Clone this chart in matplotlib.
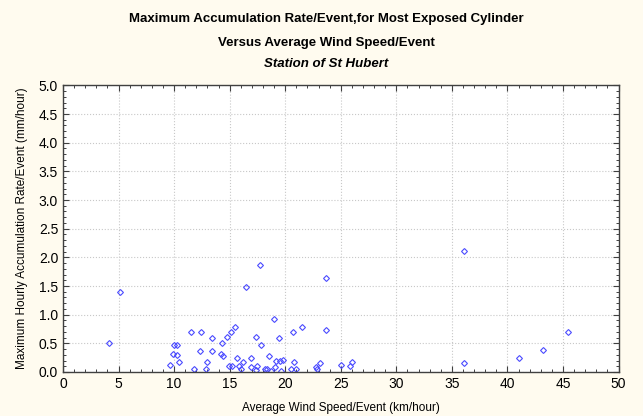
import matplotlib
matplotlib.use("Agg")
import matplotlib.pyplot as plt
from matplotlib.ticker import MultipleLocator

# average wind speed per event (km/hour)
wind_speed = [4.14, 5.1, 9.6, 9.95, 10.3, 9.93, 10.3, 10.4, 11.5, 12.45,
              11.8, 12.3, 12.95, 12.9, 13.4, 13.4, 14.3, 14.2, 14.4, 14.8,
              15.1, 15.5, 14.97, 15.2, 15.8, 16.0, 15.7, 16.2, 16.9, 16.95,
              16.5, 17.7, 17.4, 17.8, 17.5, 17.4, 18.2, 18.4, 18.75, 18.5,
              18.95, 19.4, 19.2, 19.5, 19.8, 19.1, 19.6, 20.7, 21.5, 20.8,
              20.5, 20.95, 22.8, 22.85, 23.1, 23.7, 23.7, 25.05, 25.8, 26.0,
              36.07, 36.07, 41.07, 43.2, 45.45]
# max hourly accumulation rate per event (mm/hour)
accum_rate = [0.51, 1.40, 0.12, 0.47, 0.47, 0.31, 0.30, 0.18, 0.70, 0.70,
              0.05, 0.36, 0.17, 0.05, 0.60, 0.36, 0.51, 0.31, 0.28, 0.61,
              0.70, 0.78, 0.11, 0.11, 0.10, 0.05, 0.24, 0.17, 0.24, 0.08,
              1.48, 1.87, 0.61, 0.47, 0.10, 0.03, 0.06, 0.06, 0.02, 0.28,
              0.93, 0.59, 0.20, 0.20, 0.21, 0.08, 0.02, 0.70, 0.79, 0.17,
              0.05, 0.06, 0.08, 0.06, 0.15, 1.64, 0.73, 0.12, 0.10, 0.17,
              2.11, 0.15, 0.25, 0.39, 0.70]

bg = '#fffbef'
plt.rcParams['font.family'] = ['Liberation Sans', 'DejaVu Sans']

fig = plt.figure(figsize=(6.43, 4.16), dpi=100, facecolor=bg)
ax = fig.add_axes([0.098, 0.1058, 0.864, 0.689])
ax.set_facecolor('white')

ax.plot(wind_speed, accum_rate, linestyle='none', marker='D', markersize=3,
        markerfacecolor='none', markeredgecolor='#4a4aff', markeredgewidth=0.8)

ax.set_xlim(0, 50)
ax.set_ylim(0, 5)
ax.xaxis.set_major_locator(MultipleLocator(5))
ax.xaxis.set_minor_locator(MultipleLocator(1))
ax.yaxis.set_major_locator(MultipleLocator(0.5))
ax.yaxis.set_minor_locator(MultipleLocator(0.1))
ax.yaxis.set_major_formatter(plt.FormatStrFormatter('%.1f'))

ax.grid(True, which='major', linestyle=':', color='#c8c8c8', linewidth=0.8)
ax.tick_params(which='both', direction='in', top=True, right=True,
               colors='#404040', labelcolor='black', labelsize=10)
ax.tick_params(which='major', length=4, width=0.8)
ax.tick_params(which='minor', length=2.5, width=0.7)
for s in ax.spines.values():
    s.set_color('#404040')
    s.set_linewidth(1.0)

ax.set_xlabel('Average Wind Speed/Event (km/hour)', fontsize=8.5, labelpad=8)
ax.set_ylabel('Maximum Hourly Accumulation Rate/Event (mm/hour)', fontsize=8.5, labelpad=8)

fig.text(0.507, 0.955, 'Maximum Accumulation Rate/Event,for Most Exposed Cylinder',
         ha='center', va='center', fontsize=9.5, fontweight='bold')
fig.text(0.507, 0.897, 'Versus Average Wind Speed/Event',
         ha='center', va='center', fontsize=9.5, fontweight='bold')
fig.text(0.507, 0.846, 'Station of St Hubert',
         ha='center', va='center', fontsize=9.5, fontweight='bold', style='italic')

fig.savefig('out.png', dpi=100, facecolor=bg)
